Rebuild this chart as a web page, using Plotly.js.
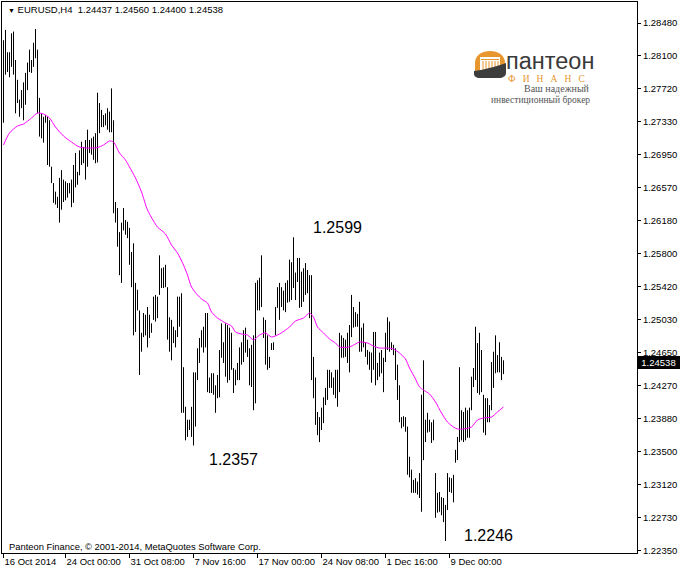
<!DOCTYPE html>
<html><head><meta charset="utf-8">
<script src="https://cdn.plot.ly/plotly-3.0.1.min.js"></script>
<style>html,body{margin:0;padding:0;background:#fff}#chart{width:680px;height:571px}</style>
</head><body><div id="chart"></div>
<script>
// ---- data (EURUSD H4, bar highs / lows) ----
const highs = [
1.2828,1.2840,1.2814,1.2814,1.2836,1.2838,1.2805,1.2782,1.2759,1.2770,
1.2779,1.2790,1.2802,1.2817,1.2805,1.2825,1.2841,1.2817,1.2761,1.2743,
1.2739,1.2741,1.2739,1.2735,1.2681,1.2662,1.2652,1.2646,1.2668,1.2677,
1.2666,1.2664,1.2662,1.2662,1.2666,1.2683,1.2697,1.2675,1.2700,1.2710,
1.2704,1.2712,1.2724,1.2712,1.2714,1.2716,1.2720,1.2767,1.2755,1.2747,
1.2741,1.2743,1.2749,1.2745,1.2772,1.2735,1.2640,1.2633,1.2605,1.2616,
1.2633,1.2619,1.2617,1.2610,1.2582,1.2592,1.2546,1.2538,1.2514,1.2488,
1.2511,1.2509,1.2518,1.2509,1.2499,1.2530,1.2532,1.2530,1.2578,1.2563,
1.2564,1.2567,1.2541,1.2506,1.2503,1.2495,1.2491,1.2530,1.2530,1.2534,
1.2448,1.2402,1.2387,1.2387,1.2402,1.2442,1.2442,1.2470,1.2482,1.2491,
1.2495,1.2511,1.2511,1.2436,1.2441,1.2441,1.2427,1.2439,1.2468,1.2499,
1.2477,1.2499,1.2497,1.2494,1.2488,1.2447,1.2445,1.2453,1.2471,1.2477,
1.2491,1.2494,1.2480,1.2470,1.2474,1.2485,1.2546,1.2549,1.2552,1.2578,
1.2506,1.2503,1.2485,1.2460,1.2476,1.2477,1.2518,1.2541,1.2546,1.2541,
1.2537,1.2546,1.2549,1.2573,1.2570,1.2599,1.2558,1.2575,1.2575,1.2559,
1.2563,1.2569,1.2561,1.2555,1.2555,1.2460,1.2436,1.2396,1.2390,1.2401,
1.2413,1.2424,1.2445,1.2445,1.2442,1.2436,1.2445,1.2445,1.2488,1.2485,
1.2482,1.2480,1.2488,1.2497,1.2532,1.2518,1.2512,1.2510,1.2524,1.2494,
1.2499,1.2477,1.2468,1.2466,1.2465,1.2489,1.2489,1.2453,1.2465,1.2468,
1.2459,1.2488,1.2506,1.2501,1.2477,1.2474,1.2470,1.2451,1.2427,1.2390,
1.2391,1.2390,1.2379,1.2344,1.2329,1.2317,1.2319,1.2315,1.2325,1.2416,
1.2456,1.2387,1.2395,1.2387,1.2384,1.2387,1.2325,1.2302,1.2303,1.2297,
1.2296,1.2288,1.2325,1.2320,1.2319,1.2323,1.2352,1.2367,1.2448,1.2398,
1.2396,1.2401,1.2398,1.2401,1.2437,1.2447,1.2495,1.2476,1.2488,1.2468,
1.2416,1.2412,1.2412,1.2404,1.2454,1.2466,1.2485,1.2462,1.2477,1.2460,
1.2456];
const lows = [
1.2732,1.2788,1.2791,1.2785,1.2797,1.2788,1.2743,1.2755,1.2739,1.2749,
1.2735,1.2753,1.2770,1.2791,1.2790,1.2797,1.2807,1.2743,1.2716,1.2714,
1.2709,1.2732,1.2683,1.2681,1.2662,1.2639,1.2637,1.2633,1.2616,1.2631,
1.2640,1.2642,1.2645,1.2650,1.2634,1.2639,1.2657,1.2660,1.2671,1.2683,
1.2685,1.2666,1.2681,1.2697,1.2695,1.2689,1.2685,1.2686,1.2720,1.2727,
1.2727,1.2729,1.2724,1.2721,1.2721,1.2627,1.2616,1.2588,1.2555,1.2546,
1.2607,1.2602,1.2598,1.2567,1.2541,1.2485,1.2489,1.2514,1.2439,1.2466,
1.2483,1.2485,1.2471,1.2482,1.2488,1.2503,1.2501,1.2505,1.2532,1.2540,
1.2540,1.2541,1.2480,1.2466,1.2456,1.2476,1.2471,1.2483,1.2495,1.2395,
1.2395,1.2363,1.2367,1.2375,1.2367,1.2357,1.2379,1.2433,1.2453,1.2471,
1.2465,1.2471,1.2419,1.2418,1.2418,1.2416,1.2395,1.2412,1.2413,1.2459,
1.2453,1.2437,1.2430,1.2433,1.2445,1.2418,1.2427,1.2433,1.2433,1.2451,
1.2454,1.2465,1.2460,1.2427,1.2425,1.2398,1.2406,1.2514,1.2514,1.2518,
1.2482,1.2451,1.2445,1.2447,1.2468,1.2468,1.2485,1.2517,1.2503,1.2518,
1.2514,1.2512,1.2523,1.2524,1.2526,1.2540,1.2526,1.2547,1.2517,1.2518,
1.2524,1.2532,1.2534,1.2505,1.2433,1.2412,1.2381,1.2369,1.2361,1.2375,
1.2383,1.2404,1.2410,1.2424,1.2424,1.2416,1.2412,1.2402,1.2419,1.2459,
1.2459,1.2460,1.2453,1.2442,1.2483,1.2494,1.2495,1.2495,1.2466,1.2466,
1.2471,1.2460,1.2451,1.2445,1.2430,1.2445,1.2427,1.2433,1.2437,1.2441,
1.2419,1.2454,1.2468,1.2466,1.2468,1.2462,1.2433,1.2410,1.2384,1.2377,
1.2379,1.2373,1.2323,1.2320,1.2302,1.2302,1.2302,1.2300,1.2296,1.2280,
1.2340,1.2361,1.2372,1.2373,1.2360,1.2363,1.2273,1.2279,1.2280,1.2276,
1.2268,1.2246,1.2282,1.2303,1.2302,1.2291,1.2337,1.2340,1.2361,1.2363,
1.2361,1.2363,1.2366,1.2366,1.2398,1.2425,1.2433,1.2418,1.2416,1.2419,
1.2372,1.2369,1.2384,1.2384,1.2398,1.2424,1.2441,1.2442,1.2442,1.2433,
1.2440];
// moving average (magenta) read at selected bars
const maIdx = [0,3,7,10,14,17,20,23,26,30,34,38,42,47,50,53,55,58,61,63,66,69,72,75,77,81,84,87,90,92,94,97,99,102,104,107,111,114,116,119,122,125,128,131,134,138,141,143,146,150,153,155,157,160,163,166,168,173,176,178,182,185,188,192,195,198,201,203,206,208,210,213,216,219,222,225,227,230,234,237,240,244,247,250];
const maVal = [1.27062,1.27202,1.27283,1.27306,1.27376,1.27434,1.27422,1.27376,1.27271,1.27167,1.27097,1.27039,1.27027,1.27033,1.27062,1.27109,1.27097,1.26969,1.26888,1.26806,1.26679,1.26516,1.26307,1.26179,1.26109,1.26028,1.25900,1.25807,1.25668,1.25551,1.25412,1.25319,1.25273,1.25226,1.25122,1.25052,1.24994,1.24959,1.24889,1.24866,1.24854,1.24796,1.24854,1.24878,1.24831,1.24866,1.24912,1.24947,1.25017,1.25052,1.25110,1.25063,1.24947,1.24878,1.24808,1.24761,1.24715,1.24715,1.24750,1.24773,1.24761,1.24726,1.24703,1.24703,1.24692,1.24645,1.24575,1.24471,1.24343,1.24250,1.24215,1.24169,1.24076,1.23948,1.23843,1.23785,1.23762,1.23762,1.23785,1.23867,1.23890,1.23901,1.23960,1.24018];
const xTickIdx = [0,31,63,95,127,159,191,223];
const xTickText = ['16 Oct 2014','24 Oct 00:00','31 Oct 08:00','7 Nov 16:00','17 Nov 00:00','24 Nov 08:00','1 Dec 16:00','9 Dec 00:00'];
const yTickVals = [1.28480,1.28100,1.27720,1.27330,1.26950,1.26570,1.26180,1.25800,1.25420,1.25030,1.24650,1.24270,1.23880,1.23500,1.23120,1.22730,1.22350];
const lastBar = {open:1.24437, high:1.24560, low:1.24400, close:1.24538};
const levelTexts = ['1.2599','1.2357','1.2246'];

// ---- geometry ----
const W=680,H=571,L=2,R=43,T=2,B=18;
const pw=W-L-R, ph=H-T-B;
const px=x=>(x-L)/pw, py=y=>(H-B-y)/ph;
function path(pts){
  return pts.map(p=>{const c=p[0];const v=p.slice(1);const o=[];for(let k=0;k<v.length;k+=2){o.push(px(v[k]).toFixed(5)+','+py(v[k+1]).toFixed(5));}return c+o.join(' ');}).join(' ');
}

const bx=[],by=[];
highs.forEach((h,i)=>{bx.push(i,i,null);by.push(lows[i],h,null);});

const traces=[
 {x:bx,y:by,type:'scatter',mode:'lines',line:{color:'#000',width:1},hoverinfo:'skip'},
 {x:maIdx,y:maVal,type:'scatter',mode:'lines',line:{color:'#FF00FF',width:1,shape:'spline',smoothing:0.7},hoverinfo:'skip'}
];

const f = 'Liberation Sans, Arial, sans-serif';
const fs = 'Liberation Serif, DejaVu Serif, serif';
const nb='\u00a0\u00a0\u00a0';
const annotations=[
 {xref:'paper',yref:'paper',x:px(6),y:py(10),xanchor:'left',yanchor:'middle',showarrow:false,
  text:'<span style="font-size:7px">▼</span> EURUSD,H4  '+[lastBar.open,lastBar.high,lastBar.low,lastBar.close].map(v=>v.toFixed(5)).join(' '),
  font:{family:f,size:9.5,color:'#000'}},
 {xref:'paper',yref:'paper',x:px(7),y:py(546),xanchor:'left',yanchor:'middle',showarrow:false,
  text:'Panteon Finance, © 2001-2014, MetaQuotes Software Corp.',font:{family:f,size:9.4,color:'#000'}},
 {xref:'x',yref:'y',x:167.2,y:1.26098,showarrow:false,text:levelTexts[0],font:{family:f,size:16,color:'#000'}},
 {xref:'x',yref:'y',x:115,y:1.23402,showarrow:false,text:levelTexts[1],font:{family:f,size:16,color:'#000'}},
 {xref:'x',yref:'y',x:242.5,y:1.22530,showarrow:false,text:levelTexts[2],font:{family:f,size:16,color:'#000'}},
 {xref:'paper',yref:'paper',x:1,y:py(362.5),xanchor:'left',yanchor:'middle',showarrow:false,
  text:lastBar.close.toFixed(5),bgcolor:'#000',borderwidth:0,width:41,height:11,borderpad:1,font:{family:f,size:9.5,color:'#fff'}},
 // logo texts
 {xref:'paper',yref:'paper',x:px(504),y:py(61),xanchor:'left',yanchor:'middle',showarrow:false,
  text:'пантеон',font:{family:'Liberation Sans, sans-serif',size:23.5,color:'#3a3a3a'}},
 {xref:'paper',yref:'paper',x:px(506),y:py(78.5),xanchor:'left',yanchor:'middle',showarrow:false,
  text:['Ф','И','Н','А','Н','С'].join(nb),font:{family:fs,size:9.5,color:'#E8962E'}},
 {xref:'paper',yref:'paper',x:px(592),y:py(88),xanchor:'right',yanchor:'middle',showarrow:false,
  text:'Ваш надежный',font:{family:fs,size:10,color:'#555'}},
 {xref:'paper',yref:'paper',x:px(592),y:py(100),xanchor:'right',yanchor:'middle',showarrow:false,
  text:'инвестиционный брокер',font:{family:fs,size:9.5,color:'#555'}}
];

const shapes=[
 {type:'path',xref:'paper',yref:'paper',fillcolor:'#E8962E',line:{width:0},
  path:path([['M',475,72],['L',475,63],['C',475,55,482,51,490,51],['C',498,51,505,55,505,63],['L',505,70]])+' Z'},
 {type:'rect',xref:'paper',yref:'paper',x0:px(480),x1:px(500),y0:py(70),y1:py(57),fillcolor:'#fff',line:{width:0}},
 {type:'rect',xref:'paper',yref:'paper',x0:px(481),x1:px(499),y0:py(59),y1:py(60),fillcolor:'#E8962E',line:{width:0}}
];
[482.5,485.5,488.5,491.5,494.5,497.5].forEach(cx=>shapes.push(
 {type:'rect',xref:'paper',yref:'paper',x0:px(cx),x1:px(cx+1),y0:py(70),y1:py(61),fillcolor:'#E8962E',line:{width:0}}));
shapes.push({type:'path',xref:'paper',yref:'paper',fillcolor:'#3d3d3d',line:{width:0},
  path:path([['M',474,71],['C',483,70,495,67,506,63],['L',506,73],['C',506,76,503,78,499,78],['L',480,78],['C',476,78,474,76,474,74]])+' Z'});

const layout={
 width:W,height:H,margin:{l:L,r:R,t:T,b:B,pad:0},
 paper_bgcolor:'#fff',plot_bgcolor:'#fff',showlegend:false,
 xaxis:{range:[-0.75,316.75],showgrid:false,zeroline:false,showline:true,mirror:true,linecolor:'#000',linewidth:1,
  ticks:'outside',ticklen:4,tickcolor:'#000',tickwidth:1,tickvals:xTickIdx,ticktext:xTickText,tickangle:0,
  ticklabelposition:'outside right',tickfont:{family:f,size:9.5,color:'#000'},fixedrange:true},
 yaxis:{range:[1.22321,1.28724],side:'right',showgrid:false,zeroline:false,showline:true,mirror:true,linecolor:'#000',linewidth:1,
  ticks:'outside',ticklen:3,tickcolor:'#000',tickwidth:1,tickvals:yTickVals,tickformat:'.5f',
  tickfont:{family:f,size:9.5,color:'#000'},fixedrange:true},
 annotations:annotations,shapes:shapes
};
Plotly.newPlot('chart',traces,layout,{staticPlot:true,displayModeBar:false});
</script></body></html>
